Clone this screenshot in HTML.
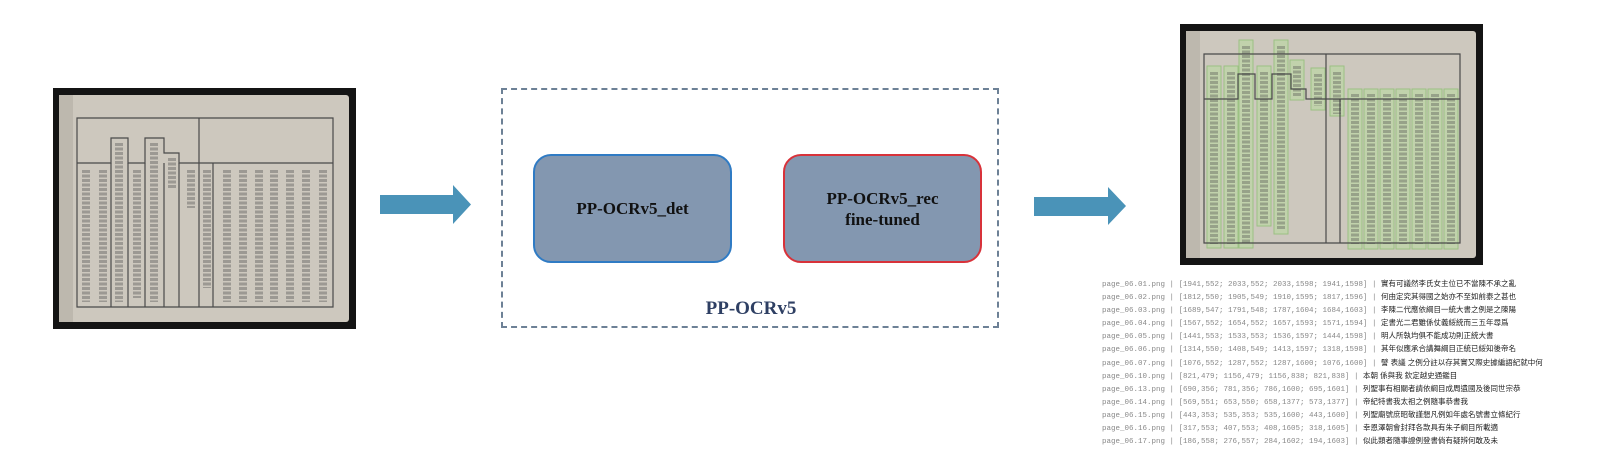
<!DOCTYPE html>
<html><head><meta charset="utf-8"><style>
html,body{margin:0;padding:0;background:#fff;}
body{width:1608px;height:452px;position:relative;overflow:hidden;font-family:"Liberation Serif",serif;}
.abs{position:absolute;}
.node{position:absolute;background:#8397b0;border-radius:18px;box-sizing:border-box;display:flex;align-items:center;justify-content:center;text-align:center;font-weight:bold;font-size:17px;line-height:21px;color:#111;}
.list{position:absolute;left:1102px;top:278px;font-family:"Liberation Mono","Noto Sans CJK TC",monospace;font-size:7.5px;line-height:11.1px;color:#888;white-space:pre;}
.list span{color:#222;font-family:"Liberation Sans","Noto Sans CJK TC",sans-serif;font-size:7.5px;}
</style></head><body>

<!-- left document -->
<svg class="abs" style="left:53px;top:88px" width="303" height="241" viewBox="0 0 303 241">
<rect width="303" height="241" fill="#141414"/>
<rect x="6" y="7" width="290" height="227" fill="#cdc8be" rx="3"/>
<rect x="6" y="7" width="14" height="227" fill="#bdb8ae"/>
<g fill="none" stroke="#4a4a4a" stroke-width="1.2">
<path d="M24 30 H280 V219 H24 Z"/>
<path d="M24 75 H58 V50 H75 V75 H92 V50 H111 V65 H126 V75 H280"/>
<path d="M58 75 V219 M75 75 V219 M92 75 V219 M111 75 V219 M126 75 V219 M146 30 V219 M160 75 V219"/>
</g>
<g stroke="#444" stroke-width="8" stroke-dasharray="3 1.5" opacity="0.35">
<path d="M33 82 V214 M50 82 V214 M66 55 V214 M84 82 V210 M101 55 V214 M119 70 V100 M138 82 V120 M154 82 V200"/>
<path d="M174 82 V214 M190 82 V214 M206 82 V214 M221 82 V214 M237 82 V214 M253 82 V214 M270 82 V214"/>
</g>
</svg>

<!-- arrow 1 -->
<svg class="abs" style="left:380px;top:184px" width="92" height="42"><path d="M0 11 H73 V1 L91 20.5 L73 40 V30 H0 Z" fill="#4a93b8"/></svg>

<!-- dashed container -->
<div class="abs" style="left:501px;top:88px;width:498px;height:240px;border:2px dashed #6d8196;box-sizing:border-box;"></div>
<div class="node" style="left:533px;top:154px;width:199px;height:109px;border:2px solid #2f7bc4;">PP-OCRv5_det</div>
<div class="node" style="left:783px;top:154px;width:199px;height:109px;border:2px solid #d8323a;">PP-OCRv5_rec<br>fine-tuned</div>
<div class="abs" style="left:651px;top:298px;width:200px;text-align:center;font-weight:bold;font-size:19px;color:#2e3f63;">PP-OCRv5</div>

<!-- arrow 2 -->
<svg class="abs" style="left:1034px;top:186px" width="93" height="40"><path d="M0 11 H74 V1 L92 20 L74 39 V30 H0 Z" fill="#4a93b8"/></svg>

<!-- right document -->
<svg class="abs" style="left:1180px;top:24px" width="303" height="241" viewBox="0 0 303 241">
<rect width="303" height="241" fill="#141414"/>
<rect x="6" y="7" width="290" height="227" fill="#cdc8be" rx="3"/>
<rect x="6" y="7" width="14" height="227" fill="#bdb8ae"/>
<g fill="#b6dc9c" opacity="0.5" stroke="#6dbb4a" stroke-width="1">
<rect x="27" y="42" width="14" height="182"/><rect x="44" y="42" width="14" height="182"/>
<rect x="59" y="16" width="14" height="208"/><rect x="77" y="42" width="14" height="160"/>
<rect x="94" y="16" width="14" height="194"/><rect x="110" y="36" width="14" height="40"/>
<rect x="131" y="44" width="14" height="42"/><rect x="150" y="42" width="14" height="50"/>
<rect x="168" y="65" width="14" height="160"/><rect x="184" y="65" width="14" height="160"/>
<rect x="200" y="65" width="14" height="160"/><rect x="216" y="65" width="14" height="160"/>
<rect x="232" y="65" width="14" height="160"/><rect x="248" y="65" width="14" height="160"/>
<rect x="264" y="65" width="14" height="160"/>
</g>
<g fill="none" stroke="#4a4a4a" stroke-width="1.2">
<path d="M24 30 H280 V219 H24 Z"/>
<path d="M24 75 H58 V50 H75 V75 H92 V50 H111 V65 H126 V75 H280"/>
<path d="M146 30 V219 M160 75 V219"/>
</g>
<g stroke="#444" stroke-width="8" stroke-dasharray="3 1.5" opacity="0.33">
<path d="M34 48 V220 M51 48 V220 M66 22 V220 M84 48 V200 M101 22 V206 M117 42 V72 M138 50 V82 M157 48 V90"/>
<path d="M175 70 V220 M191 70 V220 M207 70 V220 M223 70 V220 M239 70 V220 M255 70 V220 M271 70 V220"/>
</g>
</svg>

<div class="list">page_06.01.png | [1941,552; 2033,552; 2033,1598; 1941,1598] | <span>實有可議然李氏女主位已不當陳不承之亂</span>
page_06.02.png | [1812,550; 1905,549; 1910,1595; 1817,1596] | <span>何由定究其得國之始亦不至如前泰之甚也</span>
page_06.03.png | [1689,547; 1791,548; 1787,1604; 1684,1603] | <span>李陳二代應依綱目一統大書之例是之陳陽</span>
page_06.04.png | [1567,552; 1654,552; 1657,1593; 1571,1594] | <span>定書光二君雖係仗義綏統而三五年尋爲</span>
page_06.05.png | [1441,553; 1533,553; 1536,1597; 1444,1598] | <span>明人所執均俱不能成功則正統大書</span>
page_06.06.png | [1314,550; 1408,549; 1413,1597; 1318,1598] | <span>其年似應承合講舞綱目正統已綏知後帝名</span>
page_06.07.png | [1076,552; 1287,552; 1287,1600; 1076,1600] | <span>譬 表議 之例分註以存其實又際史據編語紀就中何</span>
page_06.10.png | [821,479; 1156,479; 1156,838; 821,838] | <span>本朝 係與我 欽定越史通鑑目</span>
page_06.13.png | [690,356; 781,356; 786,1600; 695,1601] | <span>列聖事有相關者請依綱目成周遺國及後同世宗恭</span>
page_06.14.png | [569,551; 653,550; 658,1377; 573,1377] | <span>帝紀特書我太祖之例隨事恭書我</span>
page_06.15.png | [443,353; 535,353; 535,1600; 443,1600] | <span>列聖廟號庶昭敬謹懇凡例如年處名號書立條紀行</span>
page_06.16.png | [317,553; 407,553; 408,1605; 318,1605] | <span>幸恩澤朝會封拜各款具有朱子綱目所載適</span>
page_06.17.png | [186,558; 276,557; 284,1602; 194,1603] | <span>似此類者隨事證例登書倘有疑辨何敢及未</span></div>

</body></html>
